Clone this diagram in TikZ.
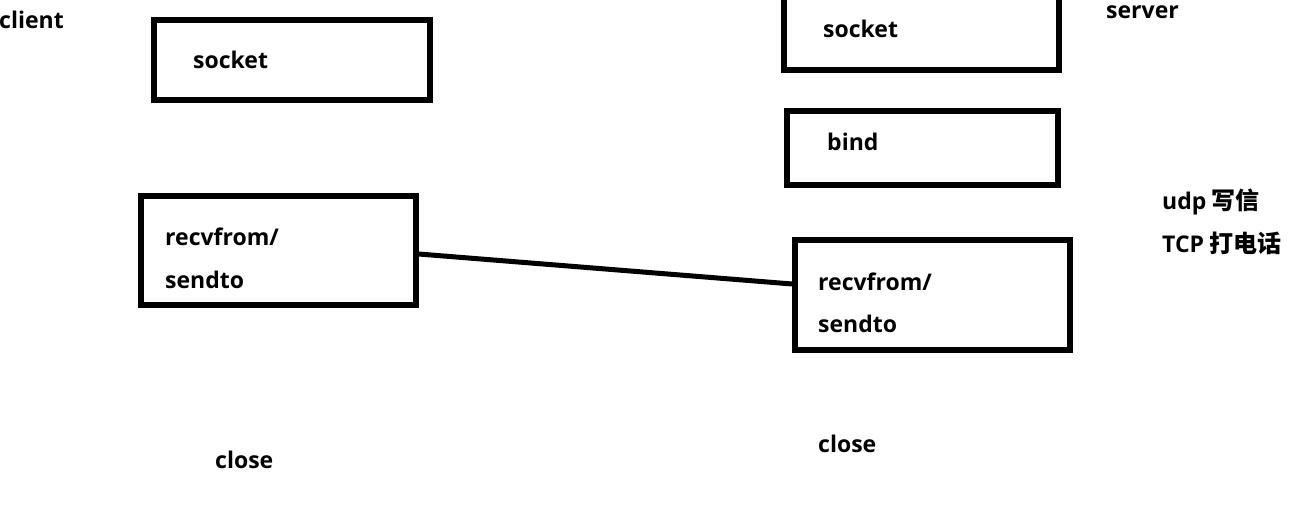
\documentclass[tikz,border=0pt]{standalone}
\usepackage{fontspec}
\setmainfont{Open Sans}
\newfontfamily\cjk{Noto Sans CJK SC}
\begin{document}
\begin{tikzpicture}[x=1pt,y=-1pt,
  box/.style={draw=black,line width=5.5pt,rectangle,inner sep=0pt},
  lbl/.style={anchor=base west,inner sep=0pt,font=\fontsize{23}{23}\selectfont\bfseries},
  link/.style={draw=black,line width=5pt}]
\useasboundingbox (0,0) rectangle (1291,507);
% boxes
\node[box,minimum width=276pt,minimum height=80pt] (csock) at (292,60) {};
\node[box,minimum width=275pt,minimum height=80pt] (ssock) at (921.5,30) {};
\node[box,minimum width=271pt,minimum height=74pt] (sbind) at (922.5,148) {};
\node[box,minimum width=275pt,minimum height=109pt] (crecv) at (278.5,250.5) {};
\node[box,minimum width=275pt,minimum height=110pt] (srecv) at (932.5,295) {};
% labels
\node[lbl] (tclient) at (-1,28) {client};
\node[lbl] (tserver) at (1106,18) {server};
\node[lbl] (tcsock) at (193,68) {socket};
\node[lbl] (tssock) at (823,37) {socket};
\node[lbl] (tbind) at (827,150) {bind};
\node[lbl] (tcrecv1) at (165,245) {recvfrom/};
\node[lbl] (tcrecv2) at (165,288) {sendto};
\node[lbl] (tsrecv1) at (818,290) {recvfrom/};
\node[lbl] (tsrecv2) at (818,332) {sendto};
\node[lbl] (tcclose) at (215,468) {close};
\node[lbl] (tsclose) at (818,452) {close};
\node[lbl] (tudp) at (1162,209) {udp\hspace{5pt}{\cjk\bfseries\fontsize{24}{24}\selectfont 写信}};
\node[lbl] (ttcp) at (1162,252) {TCP\hspace{5pt}{\cjk\bfseries\fontsize{24}{24}\selectfont 打电话}};
% connector
\draw[link] ([yshift=-3.5pt]crecv.east) -- ([yshift=11pt]srecv.west);
\end{tikzpicture}
\end{document}
